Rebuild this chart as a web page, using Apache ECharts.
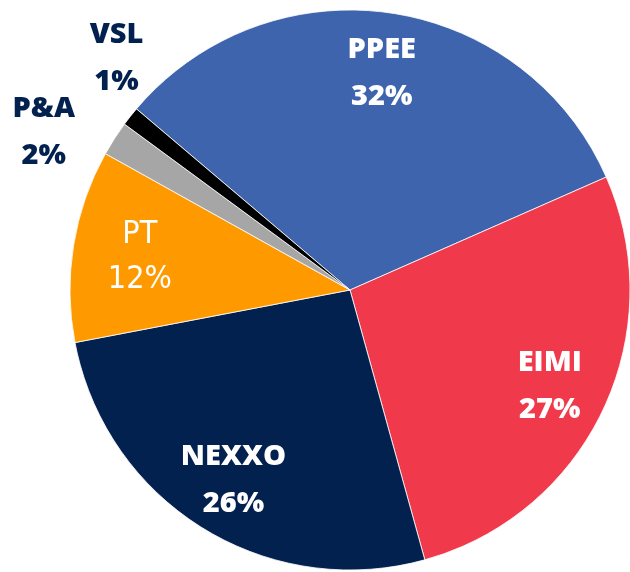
<!DOCTYPE html>
<html>
<head>
<meta charset="utf-8">
<script src="https://cdn.jsdelivr.net/npm/echarts@6/dist/echarts.min.js"></script>
<style>
  html, body { margin: 0; padding: 0; background: #ffffff; }
  #main { width: 630px; height: 572px; }
</style>
</head>
<body>
<div id="main"></div>
<script>
// slice names, shares and the printed labels
const names = ['PPEE', 'EIMI', 'NEXXO', 'PT', 'P&A', 'VSL'];
const shares = [32.2, 27.3, 26.3, 11.1, 2.0, 1.1];
const pctLabels = ['32%', '27%', '26%', '12%', '2%', '1%'];
const colors = ['#3e64ad', '#f03a4b', '#02214f', '#ff9900', '#a6a6a6', '#000000'];

const NAVY = '#02214f';
const CX = 350, CY = 290, R = 280;

const boldLabel = {
  fontFamily: 'Open Sans', fontWeight: 800, fontSize: 29, lineHeight: 47
};

const pieData = names.map((n, i) => ({
  name: n, value: shares[i], itemStyle: { color: colors[i] }
}));

// overlay ring: only carries the labels (inside labels sit mid-ring)
const labelData = names.map((n, i) => {
  const small = n === 'P&A' || n === 'VSL';
  const lab = n === 'PT'
    ? { position: 'inside', color: '#ffffff', fontFamily: 'DejaVu Sans Condensed',
        fontWeight: 'normal', fontSize: 32, lineHeight: 45 }
    : Object.assign({ position: small ? 'outside' : 'inside', color: small ? NAVY : '#ffffff' }, boldLabel);
  return {
    name: n, value: shares[i],
    itemStyle: { color: 'rgba(0,0,0,0)' },
    label: lab,
    labelLine: { show: false }
  };
});

// where the two small outside labels were placed in the picture (angle deg, radius factor)
const outsidePlace = { 'VSL': [135.2, 1.175], 'P&A': [152.8, 1.23] };

const chart = echarts.init(document.getElementById('main'), null, { renderer: 'canvas' });
chart.setOption({
  animation: false,
  series: [
    {
      type: 'pie',
      center: [CX, CY],
      radius: [0, R],
      startAngle: 139.7,
      clockwise: true,
      silent: true,
      label: { show: false },
      labelLine: { show: false },
      itemStyle: { borderColor: '#ffffff', borderWidth: 0.8 },
      emphasis: { disabled: true },
      data: pieData
    },
    {
      type: 'pie',
      center: [CX, CY],
      radius: [156, R],
      startAngle: 139.7,
      clockwise: true,
      silent: true,
      emphasis: { disabled: true },
      label: {
        show: true,
        overflow: 'none',
        formatter: (p) => p.name + '\n' + pctLabels[p.dataIndex]
      },
      labelLine: { show: false, length: 10, length2: 0 },
      labelLayout: (p) => {
        const name = names[p.dataIndex];
        const place = outsidePlace[name];
        if (!place) return name === 'PT' ? { dx: 8, dy: 2 } : { dy: 2 };
        const a = place[0] * Math.PI / 180;
        return {
          x: CX + place[1] * R * Math.cos(a),
          y: CY - place[1] * R * Math.sin(a),
          align: 'center',
          verticalAlign: 'middle'
        };
      },
      data: labelData
    }
  ]
});
</script>
</body>
</html>
